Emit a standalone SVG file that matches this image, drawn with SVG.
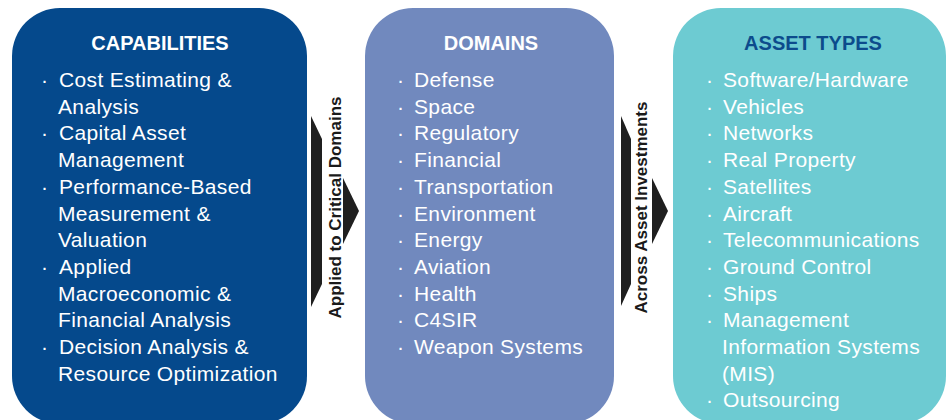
<svg xmlns="http://www.w3.org/2000/svg" width="946" height="420" viewBox="0 0 946 420">
<style>
.title{font-family:"Liberation Sans",Arial,sans-serif;font-weight:bold;font-size:20px;text-anchor:middle}
.item{font-family:"Liberation Sans",Arial,sans-serif;font-size:21px;fill:#ffffff;letter-spacing:0.35px}
.lbl{font-family:"Liberation Sans",Arial,sans-serif;font-weight:bold;font-size:17px;fill:#1a1a1a;text-anchor:middle}
.arr{fill:#1f1f1f}
</style>
<rect width="946" height="420" fill="#ffffff"/>
<g id="capabilities">
<rect x="12" y="8" width="295" height="416" rx="48" fill="#05498c"/>
<text class="title" x="160" y="50" fill="#ffffff">CAPABILITIES</text>
<g class="item">
<text x="41" y="87">·</text><text x="59" y="87">Cost Estimating &amp;</text>
<text x="58" y="113.7">Analysis</text>
<text x="41" y="140.4">·</text><text x="59" y="140.4">Capital Asset</text>
<text x="58" y="167.1">Management</text>
<text x="41" y="193.8">·</text><text x="59" y="193.8">Performance-Based</text>
<text x="58" y="220.5">Measurement &amp;</text>
<text x="58" y="247.2">Valuation</text>
<text x="41" y="273.9">·</text><text x="59" y="273.9">Applied</text>
<text x="58" y="300.6">Macroeconomic &amp;</text>
<text x="58" y="327.3">Financial Analysis</text>
<text x="41" y="354">·</text><text x="59" y="354">Decision Analysis &amp;</text>
<text x="58" y="380.7">Resource Optimization</text>
</g>
</g>
<g id="domains">
<rect x="365" y="8" width="249" height="416" rx="48" fill="#7189be"/>
<text class="title" x="491" y="50" fill="#ffffff">DOMAINS</text>
<g class="item">
<text x="397" y="87">·</text><text x="414" y="87">Defense</text>
<text x="397" y="113.7">·</text><text x="414" y="113.7">Space</text>
<text x="397" y="140.4">·</text><text x="414" y="140.4">Regulatory</text>
<text x="397" y="167.1">·</text><text x="414" y="167.1">Financial</text>
<text x="397" y="193.8">·</text><text x="414" y="193.8">Transportation</text>
<text x="397" y="220.5">·</text><text x="414" y="220.5">Environment</text>
<text x="397" y="247.2">·</text><text x="414" y="247.2">Energy</text>
<text x="397" y="273.9">·</text><text x="414" y="273.9">Aviation</text>
<text x="397" y="300.6">·</text><text x="414" y="300.6">Health</text>
<text x="397" y="327.3">·</text><text x="414" y="327.3">C4SIR</text>
<text x="397" y="354">·</text><text x="414" y="354">Weapon Systems</text>
</g>
</g>
<g id="asset-types">
<rect x="673" y="8" width="273" height="416" rx="48" fill="#6dcbd2"/>
<text class="title" x="813" y="50" fill="#0c4b8c">ASSET TYPES</text>
<g class="item">
<text x="706" y="87">·</text><text x="723" y="87">Software/Hardware</text>
<text x="706" y="113.7">·</text><text x="723" y="113.7">Vehicles</text>
<text x="706" y="140.4">·</text><text x="723" y="140.4">Networks</text>
<text x="706" y="167.1">·</text><text x="723" y="167.1">Real Property</text>
<text x="706" y="193.8">·</text><text x="723" y="193.8">Satellites</text>
<text x="706" y="220.5">·</text><text x="723" y="220.5">Aircraft</text>
<text x="706" y="247.2">·</text><text x="723" y="247.2">Telecommunications</text>
<text x="706" y="273.9">·</text><text x="723" y="273.9">Ground Control</text>
<text x="706" y="300.6">·</text><text x="723" y="300.6">Ships</text>
<text x="706" y="327.3">·</text><text x="723" y="327.3">Management</text>
<text x="722" y="354">Information Systems</text>
<text x="722" y="380.7">(MIS)</text>
<text x="706" y="407.4">·</text><text x="723" y="407.4">Outsourcing</text>
</g>
</g>
<g id="connectors">
<g id="arrow-1">
<polygon class="arr" points="311,116 322,139 322,284 311,307"/>
<polygon class="arr" points="343,178 359,211 343,244"/>
<text class="lbl" transform="translate(340.5,207.5) rotate(-90)">Applied to Critical Domains</text>
</g>
<g id="arrow-2">
<polygon class="arr" points="621,116 631,139 631,284 621,306"/>
<polygon class="arr" points="652,178 668,211 652,244"/>
<text class="lbl" transform="translate(647,207.5) rotate(-90)">Across Asset Investments</text>
</g>
</g>
</svg>
